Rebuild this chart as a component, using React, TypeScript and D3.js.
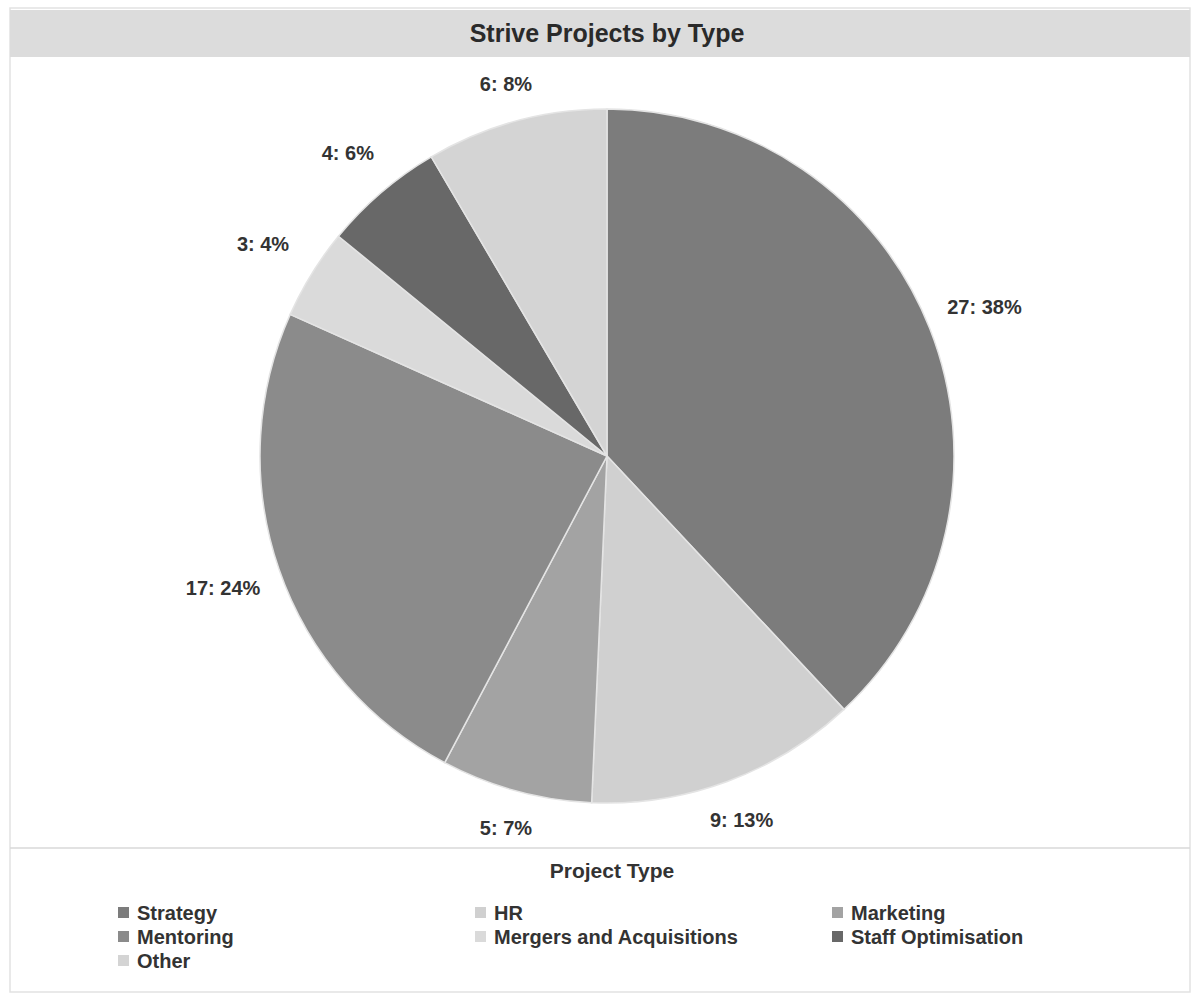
import React from "react";
import * as d3 from "d3";

const categories = ["Strategy", "HR", "Marketing", "Mentoring", "Mergers and Acquisitions", "Staff Optimisation", "Other"];
const values = [27, 9, 5, 17, 3, 4, 6];
const colors = ["#7c7c7c", "#d0d0d0", "#a3a3a3", "#8b8b8b", "#dadada", "#686868", "#d4d4d4"];
const title = "Strive Projects by Type";
const legendTitle = "Project Type";

const W = 1200;
const H = 998;
const cx = 607;
const cy = 456;
const R = 347;
const font = "Liberation Sans, Arial, sans-serif";

export default function App() {
  const total = d3.sum(values);
  const pie = d3.pie<number>().sort(null).value((d) => d)(values);
  const arc = d3.arc<d3.PieArcDatum<number>>().innerRadius(0).outerRadius(R);
  const legendCols = [118, 475, 832];
  const legendRows = [920, 944, 968];

  return (
    <svg width={W} height={H} style={{ position: "absolute", left: 0, top: 0, background: "#fff" }} fontFamily={font}>
      <rect x={0} y={0} width={W} height={H} fill="#fff" />
      <rect x={10} y={8} width={1180} height={984} fill="none" stroke="#e2e2e2" strokeWidth={1.5} />
      <rect x={10} y={10} width={1180} height={47} fill="#dcdcdc" />
      <text x={607} y={42} textAnchor="middle" fontSize={25} fontWeight="bold" fill="#2a2a2a">
        {title}
      </text>
      <g transform={`translate(${cx},${cy})`}>
        {pie.map((p, i) => (
          <path key={i} d={arc(p) || ""} fill={colors[i]} stroke="#e4e4e4" strokeWidth={1.5} />
        ))}
        {pie.map((p, i) => {
          const a = (p.startAngle + p.endAngle) / 2;
          const s = Math.sin(a);
          const c = Math.cos(a);
          const dist = R + 18 + 40 * Math.abs(s) + 10 * Math.abs(c);
          const x = s * dist;
          const y = -c * dist + 7;
          const pct = Math.round((values[i] / total) * 100);
          return (
            <text key={"l" + i} x={x} y={y} textAnchor="middle" fontSize={20} fontWeight="bold" fill="#333">
              {`${values[i]}: ${pct}%`}
            </text>
          );
        })}
      </g>
      <line x1={10} x2={1190} y1={848} y2={848} stroke="#d8d8d8" strokeWidth={1.5} />
      <text x={612} y={878} textAnchor="middle" fontSize={21} fontWeight="bold" fill="#333">
        {legendTitle}
      </text>
      {categories.map((cat, i) => {
        const col = i % 3;
        const row = Math.floor(i / 3);
        const x = legendCols[col];
        const y = legendRows[row];
        return (
          <g key={"lg" + i}>
            <rect x={x} y={y - 13} width={11} height={11} fill={colors[i]} />
            <text x={x + 19} y={y} fontSize={20} fontWeight="bold" fill="#333">
              {cat}
            </text>
          </g>
        );
      })}
    </svg>
  );
}
